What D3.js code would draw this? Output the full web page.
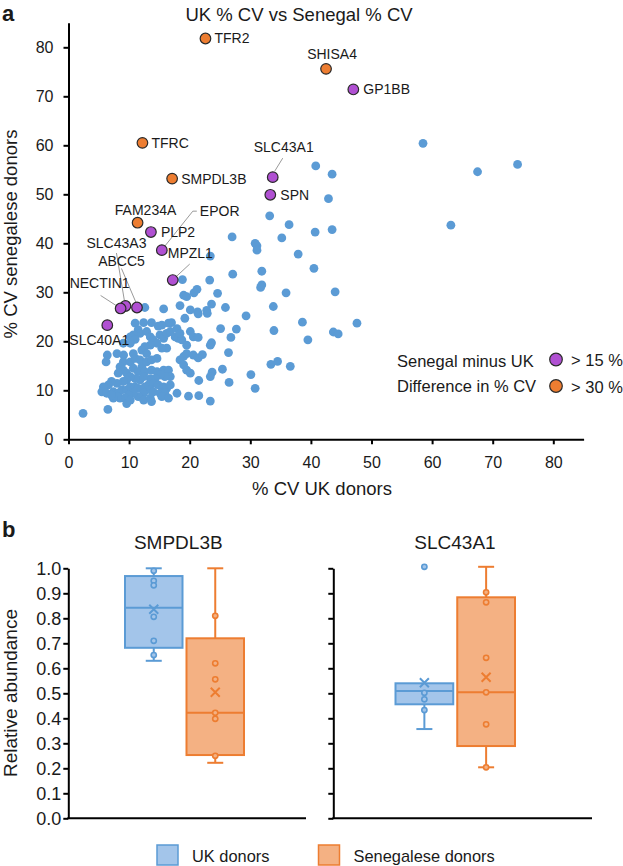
<!DOCTYPE html>
<html><head><meta charset="utf-8">
<script src="https://cdn.jsdelivr.net/npm/d3@7"></script>
<style>
body{margin:0;background:#fff}
svg{display:block}
text{font-family:"Liberation Sans",Arial,Helvetica,sans-serif;fill:#1a1a1a}
</style>
</head><body>
<svg id="chart" width="623" height="866"></svg>
<script>
// ---------------- DATA ----------------
// Panel a: background proteins (% CV UK, % CV Senegal)
const bgUK = [12.6,15.7,18.4,19.0,19.5,20.1,19.2,17.0,16.5,15.4,14.8,13.7,12.4,11.0,11.5,11.8,10.7,10.2,11.0,12.9,13.5,14.0,15.1,15.7,16.2,16.8,17.6,18.1,18.7,17.9,18.4,20.1,20.6,19.5,16.2,15.4,14.6,13.5,12.6,12.1,12.9,10.7,9.1,8.0,9.05,10.2,6.4,6.2,9.05,10.2,11.0,11.8,12.1,12.9,13.7,14.6,8.5,9.05,8.2,9.6,10.7,11.5,12.6,13.7,14.6,15.7,16.5,18.4,19.0,19.5,20.6,19.0,19.5,20.1,16.8,15.9,15.1,14.3,13.5,12.4,11.8,11.0,10.2,9.6,9.05,8.0,7.1,6.6,5.75,5.5,6.3,7.4,8.2,8.8,9.6,10.2,11.0,11.5,12.6,13.2,14.0,14.8,15.7,16.2,16.8,13.5,14.0,15.1,15.9,12.4,11.5,10.7,9.9,9.3,8.5,8.0,7.4,7.1,9.6,10.2,12.4,13.5,13.7,15.4,16.5,17.9,19.8,6.5,2.4,20.7,
  24.6,35.9,23.6,22.8,22.9,21.3,21.4,25.9,29.3,33.8,38.6,25.1,27.7,33.9,39.5,21.4,26.8,23.6,23.4,26.4,21.4,22.1,33.4,34.5,36.6,25.4,23.7,23.4,30.1,21.5,26.5,30.8,21.5,23.4,
  33.2,36.4,40.7,27.0,30.8,31.1,31.1,35.2,37.9,40.5,23.4,18.8,23.3,27.1,31.9,31.9,31.7,21.2,
  40.8,43.5,42.9,43.5,58.5,67.5,74.1,63.1,44.0,43.7,44.5,47.6];
const bgSenegal = [26.9,26.6,27.3,29.4,29.1,26.4,24.7,23.8,23.7,23.3,23.1,23.8,23.8,23.7,22.4,21.6,21.3,20.9,20.4,22.0,20.9,20.3,21.3,20.6,21.6,22.0,20.9,20.6,20.3,22.6,21.6,22.0,20.9,19.2,18.6,18.6,19.6,19.2,18.9,18.2,17.5,17.5,17.2,17.5,19.6,19.6,17.2,15.8,15.8,15.8,16.5,16.2,14.8,15.8,16.2,16.5,14.8,14.1,13.5,13.5,14.5,13.8,13.8,14.1,13.8,14.1,14.1,16.2,16.9,17.5,17.2,15.2,14.1,13.5,12.8,12.8,13.1,12.4,12.4,12.8,12.1,12.4,12.8,12.1,11.8,11.4,11.8,11.1,10.7,9.7,9.4,9.7,9.4,10.1,10.1,10.7,10.7,10.4,10.7,11.1,11.4,11.1,10.7,10.4,11.1,10.1,9.7,9.4,9.4,9.4,8.7,9.4,9.0,8.4,8.4,8.7,8.4,9.0,7.3,8.0,8.0,8.4,7.7,8.7,8.4,9.4,8.8,6.1,5.3,29.9,
  29.8,29.9,27.6,26.3,25.7,26.0,25.6,26.9,25.2,27.1,23.9,22.6,22.5,22.2,20.3,20.8,20.8,19.7,19.2,17.7,16.6,17.3,15.3,15.9,14.9,14.3,13.7,12.8,13.2,12.0,11.6,10.4,8.9,7.8,
  45.6,43.8,42.3,41.3,40.0,39.5,38.6,41.1,37.8,34.9,37.4,32.6,32.5,33.7,34.3,31.5,31.0,30.6,
  55.8,54.1,49.1,42.8,60.4,54.6,56.1,43.7,30.1,21.9,21.5,23.7];

// Panel a: highlighted proteins
const geneNames   = ["TFR2","SHISA4","GP1BB","TFRC","SMPDL3B","SLC43A1","SPN","FAM234A","PLP2","EPOR","MPZL1","SLC43A3","ABCC5","NECTIN1","SLC40A1"];
const geneUK      = [22.6, 42.5, 47.0, 12.2, 17.1, 33.7, 33.3, 11.4, 13.6, 15.4, 17.2, 9.4, 11.3, 8.6, 6.4];
const geneSenegal = [81.8, 75.6, 71.4, 60.5, 53.2, 53.5, 49.9, 44.2, 42.3, 38.6, 32.5, 27.2, 26.9, 26.7, 23.3];
const geneClass   = ["> 30 %","> 30 %","> 15 %","> 30 %","> 30 %","> 15 %","> 15 %","> 30 %","> 15 %","> 15 %","> 15 %","> 15 %","> 15 %","> 15 %","> 15 %"];
const diffClasses = ["> 15 %","> 30 %"];
const scatterTicks = [0,10,20,30,40,50,60,70,80];

// Panel b: box plots
const boxGenes  = ["SMPDL3B","SLC43A1"];
const boxGroups = ["UK donors","Senegalese donors"];
const boxMin    = [[0.630,0.222],[0.357,0.204]];
const boxQ1     = [[0.682,0.253],[0.456,0.289]];
const boxMedian = [[0.842,0.422],[0.509,0.504]];
const boxQ3     = [[0.969,0.720],[0.540,0.884]];
const boxMax    = [[1.000,1.000],[0.540,1.006]];
const boxMean   = [[0.836,0.504],[0.542,0.564]];
const boxPoints = [
  [[0.990,0.950,0.932,0.806,0.710,0.653],[0.810,0.620,0.556,0.422,0.398,0.250]],
  [[1.006,0.502,0.476,0.433],[0.904,0.864,0.642,0.504,0.376,0.204]]
];
const boxTicks = [0,0.1,0.2,0.3,0.4,0.5,0.6,0.7,0.8,0.9,1.0];

// ---------------- LAYOUT / STYLE ----------------
const svg = d3.select("#chart");
const BLUE = "#5b9bd5", ORANGE = "#ed7d31", PURPLE = "#b050d2";
const BLUE_FILL = "#a3c5ea", ORANGE_FILL = "#f4b183";
const classColor = d3.scaleOrdinal().domain(diffClasses).range([PURPLE, ORANGE]);
const groupStroke = d3.scaleOrdinal().domain(boxGroups).range([BLUE, ORANGE]);
const groupFill = d3.scaleOrdinal().domain(boxGroups).range([BLUE_FILL, ORANGE_FILL]);

// label placement (pixel offsets from the marker)
const labelLayout = {
  TFR2:{dx:9,dy:5,a:"start"}, SHISA4:{dx:6,dy:-10,a:"middle"}, GP1BB:{dx:10,dy:5,a:"start"},
  TFRC:{dx:9,dy:5,a:"start"}, SMPDL3B:{dx:9,dy:5,a:"start"},
  SLC43A1:{dx:11,dy:-25,a:"middle",line:[[10,-19],[2,-6]]},
  SPN:{dx:10,dy:5,a:"start"}, FAM234A:{dx:8,dy:-8,a:"middle"}, PLP2:{dx:10,dy:5,a:"start"},
  EPOR:{dx:38,dy:-34,a:"start",line:[[35,-39],[31,-39],[3,-4]]},
  MPZL1:{dx:-5,dy:-22,a:"start",line:[[17,-16],[3,-3]]},
  SLC43A3:{dx:-9,dy:-58,a:"middle",line:[[-9,-53],[-1,-5]]},
  ABCC5:{dx:-15.5,dy:-41,a:"middle",line:[[-15.5,-39],[-1,-5]]},
  NECTIN1:{dx:-21,dy:-20,a:"middle",line:[[-20,-13],[-3,-2]]},
  SLC40A1:{dx:-8,dy:20,a:"middle"}
};

// ---------------- PANEL A ----------------
const x = d3.scaleLinear().domain([0,85]).range([68.5, 583.6]);
const y = d3.scaleLinear().domain([0,85]).range([439.3, 22.8]);

svg.append("text").attr("x",2).attr("y",21).style("font-size","22px").style("font-weight","bold").text("a");
svg.append("text").attr("x",299).attr("y",21).attr("text-anchor","middle").style("font-size","18.5px").text("UK % CV vs Senegal % CV");

const gx = svg.append("g").attr("transform",`translate(0,${y(0)})`)
  .call(d3.axisBottom(x).tickValues(scatterTicks).tickSize(5).tickSizeOuter(0).tickPadding(12));
const gy = svg.append("g").attr("transform",`translate(${x(0)},0)`)
  .call(d3.axisLeft(y).tickValues(scatterTicks).tickSize(5).tickSizeOuter(0).tickPadding(10));
[gx,gy].forEach(g=>{
  g.select(".domain").attr("stroke","#000").attr("stroke-width",2);
  g.selectAll(".tick line").attr("stroke","#000").attr("stroke-width",2);
  g.selectAll(".tick text").style("font-size","16px").attr("fill","#1a1a1a");
});

svg.append("text").attr("x",322).attr("y",495).attr("text-anchor","middle").style("font-size","18.5px").text("% CV UK donors");
svg.append("text").attr("transform","translate(17,234) rotate(-90)").attr("text-anchor","middle").style("font-size","18.5px").text("% CV senegalese donors");

// background dots
svg.append("g").selectAll("circle").data(d3.range(bgUK.length)).join("circle")
  .attr("cx",i=>x(bgUK[i])).attr("cy",i=>y(bgSenegal[i])).attr("r",4.4).attr("fill",BLUE);

// leader lines
const lines = svg.append("g");
geneNames.forEach((g,i)=>{
  const L = labelLayout[g];
  if(L.line){
    const px = x(geneUK[i]), py = y(geneSenegal[i]);
    lines.append("polyline").attr("points",L.line.map(p=>[px+p[0],py+p[1]].join(",")).join(" "))
      .attr("fill","none").attr("stroke","#9a9a9a").attr("stroke-width",1);
  }
});
// highlighted dots
svg.append("g").selectAll("circle").data(d3.range(geneNames.length)).join("circle")
  .attr("cx",i=>x(geneUK[i])).attr("cy",i=>y(geneSenegal[i])).attr("r",5.3)
  .attr("fill",i=>classColor(geneClass[i])).attr("stroke","#2a2a2a").attr("stroke-width",1.2);
// labels
svg.append("g").selectAll("text").data(d3.range(geneNames.length)).join("text")
  .attr("x",i=>x(geneUK[i])+labelLayout[geneNames[i]].dx)
  .attr("y",i=>y(geneSenegal[i])+labelLayout[geneNames[i]].dy)
  .attr("text-anchor",i=>labelLayout[geneNames[i]].a)
  .style("font-size","14px").text(i=>geneNames[i]);

// legend panel a
svg.append("text").attr("x",397).attr("y",367).style("font-size","16.5px").text("Senegal minus UK");
svg.append("text").attr("x",397).attr("y",392).style("font-size","16.5px").text("Difference in % CV");
diffClasses.forEach((c,i)=>{
  svg.append("circle").attr("cx",556).attr("cy",359.5+i*26.5).attr("r",6.3)
    .attr("fill",classColor(c)).attr("stroke","#2a2a2a").attr("stroke-width",1.2);
  svg.append("text").attr("x",571).attr("y",366+i*26.5).style("font-size","16.5px").text(c);
});

// ---------------- PANEL B ----------------
svg.append("text").attr("x",2).attr("y",537).style("font-size","22px").style("font-weight","bold").text("b");
const yb = d3.scaleLinear().domain([0,1]).range([818.3,568.3]);
const panelAxisX = [68.3, 333.3];
const panelAxisEnd = [306, 592];
const panelBand = [[125,244],[395.5,515]];
const panelTitleX = [178.3, 455];

boxGenes.forEach((gene,gi)=>{
  const g = svg.append("g");
  const xb = d3.scaleBand().domain(boxGroups).range(panelBand[gi]).paddingInner(0.065).paddingOuter(0);
  g.append("text").attr("x",panelTitleX[gi]).attr("y",549).attr("text-anchor","middle").style("font-size","19px").text(gene);
  const ax = g.append("g").attr("transform",`translate(${panelAxisX[gi]},0)`)
    .call(d3.axisLeft(yb).tickValues(boxTicks).tickSize(5).tickSizeOuter(0).tickPadding(2)
      .tickFormat(gi===0 ? d3.format(".1f") : ()=>""));
  ax.select(".domain").attr("stroke","#000").attr("stroke-width",2);
  ax.selectAll(".tick line").attr("stroke","#000").attr("stroke-width",2);
  ax.selectAll(".tick text").style("font-size","18px").attr("fill","#1a1a1a");
  g.append("line").attr("x1",panelAxisX[gi]-1).attr("x2",panelAxisEnd[gi]).attr("y1",yb(0)).attr("y2",yb(0))
    .attr("stroke","#000").attr("stroke-width",2);

  boxGroups.forEach((grp,k)=>{
    const x0 = xb(grp), bw = xb.bandwidth(), cx = x0 + bw/2;
    const st = groupStroke(grp), fl = groupFill(grp);
    const q1 = boxQ1[gi][k], q3 = boxQ3[gi][k], mn = boxMin[gi][k], mx = boxMax[gi][k];
    // whiskers
    if(mx > q3){
      g.append("line").attr("x1",cx).attr("x2",cx).attr("y1",yb(q3)).attr("y2",yb(mx)).attr("stroke",st).attr("stroke-width",2);
      g.append("line").attr("x1",cx-8).attr("x2",cx+8).attr("y1",yb(mx)).attr("y2",yb(mx)).attr("stroke",st).attr("stroke-width",2);
    }
    if(mn < q1){
      g.append("line").attr("x1",cx).attr("x2",cx).attr("y1",yb(q1)).attr("y2",yb(mn)).attr("stroke",st).attr("stroke-width",2);
      g.append("line").attr("x1",cx-8).attr("x2",cx+8).attr("y1",yb(mn)).attr("y2",yb(mn)).attr("stroke",st).attr("stroke-width",2);
    }
    g.append("rect").attr("x",x0).attr("width",bw).attr("y",yb(q3)).attr("height",yb(q1)-yb(q3))
      .attr("fill",fl).attr("stroke",st).attr("stroke-width",2);
    g.append("line").attr("x1",x0).attr("x2",x0+bw).attr("y1",yb(boxMedian[gi][k])).attr("y2",yb(boxMedian[gi][k]))
      .attr("stroke",st).attr("stroke-width",2);
    // points
    g.selectAll(null).data(boxPoints[gi][k]).join("circle")
      .attr("cx",cx).attr("cy",d=>yb(d)).attr("r",2.6).attr("fill",fl).attr("stroke",st).attr("stroke-width",1.6);
    // mean marker
    const my = yb(boxMean[gi][k]);
    g.append("path").attr("d",`M${cx-4.5},${my-4.5}L${cx+4.5},${my+4.5}M${cx-4.5},${my+4.5}L${cx+4.5},${my-4.5}`)
      .attr("stroke",st).attr("stroke-width",2);
  });
});

svg.append("text").attr("transform","translate(17,693) rotate(-90)").attr("text-anchor","middle").style("font-size","19px").text("Relative abundance");

// bottom legend
const legX = [157, 318.5];
boxGroups.forEach((grp,k)=>{
  svg.append("rect").attr("x",legX[k]).attr("y",845).attr("width",21).attr("height",20)
    .attr("fill",groupFill(grp)).attr("stroke",groupStroke(grp)).attr("stroke-width",1.5);
  svg.append("text").attr("x",legX[k]+35).attr("y",862).style("font-size","16.4px").text(grp);
});
</script>
</body></html>
